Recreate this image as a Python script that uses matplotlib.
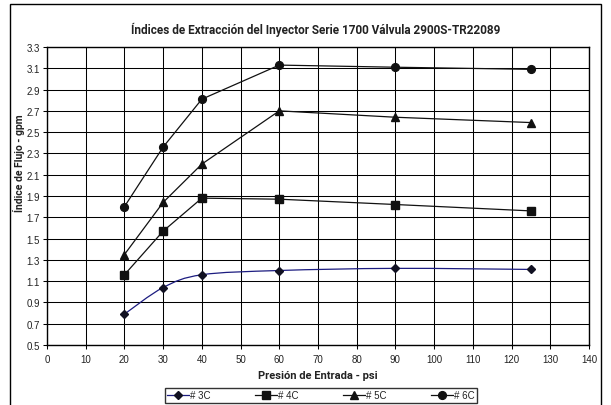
import numpy as np
import matplotlib
matplotlib.use("Agg")
import matplotlib.pyplot as plt
from matplotlib.path import Path
from matplotlib.patches import PathPatch, Rectangle
from matplotlib.lines import Line2D

# Inlet pressure (psi) and draw rates (gpm) per injector size
pressure = [20, 30, 40, 60, 90, 125]
flow_3c = [0.79, 1.04, 1.16, 1.20, 1.22, 1.21]
flow_4c = [1.16, 1.57, 1.88, 1.87, 1.82, 1.76]
flow_5c = [1.35, 1.84, 2.20, 2.70, 2.64, 2.59]
flow_6c = [1.80, 2.36, 2.81, 3.13, 3.11, 3.09]
labels = ["# 3C", "# 4C", "# 5C", "# 6C"]

x_ticks = list(range(0, 141, 10))
y_ticks = [round(0.5 + 0.2 * i, 1) for i in range(15)]

NAVY = "#1c1c80"
TEXT = "#222222"
W, H = 611, 406


def smooth_path(xs, ys):
    # Catmull-Rom style bezier through the points (like a smoothed line)
    pts = np.column_stack([xs, ys]).astype(float)
    verts = [pts[0]]
    codes = [Path.MOVETO]
    n = len(pts)
    for i in range(n - 1):
        p0 = pts[i - 1] if i > 0 else pts[i]
        p1 = pts[i]
        p2 = pts[i + 1]
        p3 = pts[i + 2] if i + 2 < n else pts[i + 1]
        verts += [p1 + (p2 - p0) / 6, p2 - (p3 - p1) / 6, p2]
        codes += [Path.CURVE4] * 3
    return Path(verts, codes)


fig = plt.figure(figsize=(W / 100, H / 100), dpi=100)
ax = fig.add_axes([47 / W, 1 - 346 / H, (589 - 47) / W, (346 - 48) / H])

# outer chart frame (bottom edge runs off the page)
fig.patches.append(Rectangle((10 / W, -0.05), (601 - 10) / W, 1 - 5 / H + 0.05,
                             transform=fig.transFigure, fill=False,
                             edgecolor="black", linewidth=1.0, zorder=0))

ax.set_xlim(0, 140)
ax.set_ylim(0.5, 3.3)
ax.set_xticks(x_ticks)
ax.set_yticks(y_ticks)
ax.set_yticklabels([f"{v:.1f}" for v in y_ticks])
ax.grid(True, color="black", linewidth=0.75)
ax.set_axisbelow(True)
for s in ax.spines.values():
    s.set_color("black")
    s.set_linewidth(1.0)
ax.tick_params(length=3, width=0.75, color="black", labelsize=7,
               labelcolor=TEXT)
ax.tick_params(axis="y", pad=2)
ax.tick_params(axis="x", pad=3.5)
for lab in ax.get_xticklabels() + ax.get_yticklabels():
    lab.set_family("Liberation Sans")

# 3C: smoothed navy curve with diamond markers
ax.add_patch(PathPatch(smooth_path(pressure, flow_3c), facecolor="none",
                       edgecolor=NAVY, linewidth=0.9, zorder=3))
ax.plot(pressure, flow_3c, linestyle="none", marker="D", markersize=4.2,
        color="#111122", zorder=4)

styles = [("s", 5.5, flow_4c), ("^", 5.8, flow_5c), ("o", 5.6, flow_6c)]
for marker, ms, vals in styles:
    ax.plot(pressure, vals, color="#111111", linewidth=0.9, marker=marker,
            markersize=ms, zorder=4)

handles = [Line2D([], [], color=NAVY, lw=0.9, marker="D", markersize=4.2,
                  markerfacecolor="#111122", markeredgecolor="#111122")]
for marker, ms, _ in styles:
    handles.append(Line2D([], [], color="#111111", lw=0.9, marker=marker,
                          markersize=ms))

leg = fig.legend(handles, labels, loc="center", ncol=4,
                 bbox_to_anchor=(321 / W, 1 - 396.5 / H),
                 prop={"family": "Liberation Sans", "size": 7},
                 frameon=True, fancybox=False, edgecolor="black",
                 borderpad=0.25, handlelength=2.2, handletextpad=0.15,
                 columnspacing=4.6, borderaxespad=0)
leg.get_frame().set_linewidth(1.0)
for t in leg.get_texts():
    t.set_color(TEXT)

fig.text(316 / W, 1 - 30 / H,
         "Índices de Extracción del Inyector Serie 1700 Válvula 2900S-TR22089",
         ha="center", va="center", family="Roboto", fontweight="bold",
         fontsize=8.5, color=TEXT)
fig.text(318 / W, 1 - 376 / H, "Presión de Entrada - psi", ha="center",
         va="center", family="Roboto", fontweight="bold", fontsize=8,
         color=TEXT)
fig.text(19 / W, 1 - 163 / H, "Índice de Flujo - gpm", ha="center",
         va="center", rotation=90, family="Roboto", fontweight="bold",
         fontsize=7.5, color=TEXT)

fig.savefig("out.png", dpi=100)
